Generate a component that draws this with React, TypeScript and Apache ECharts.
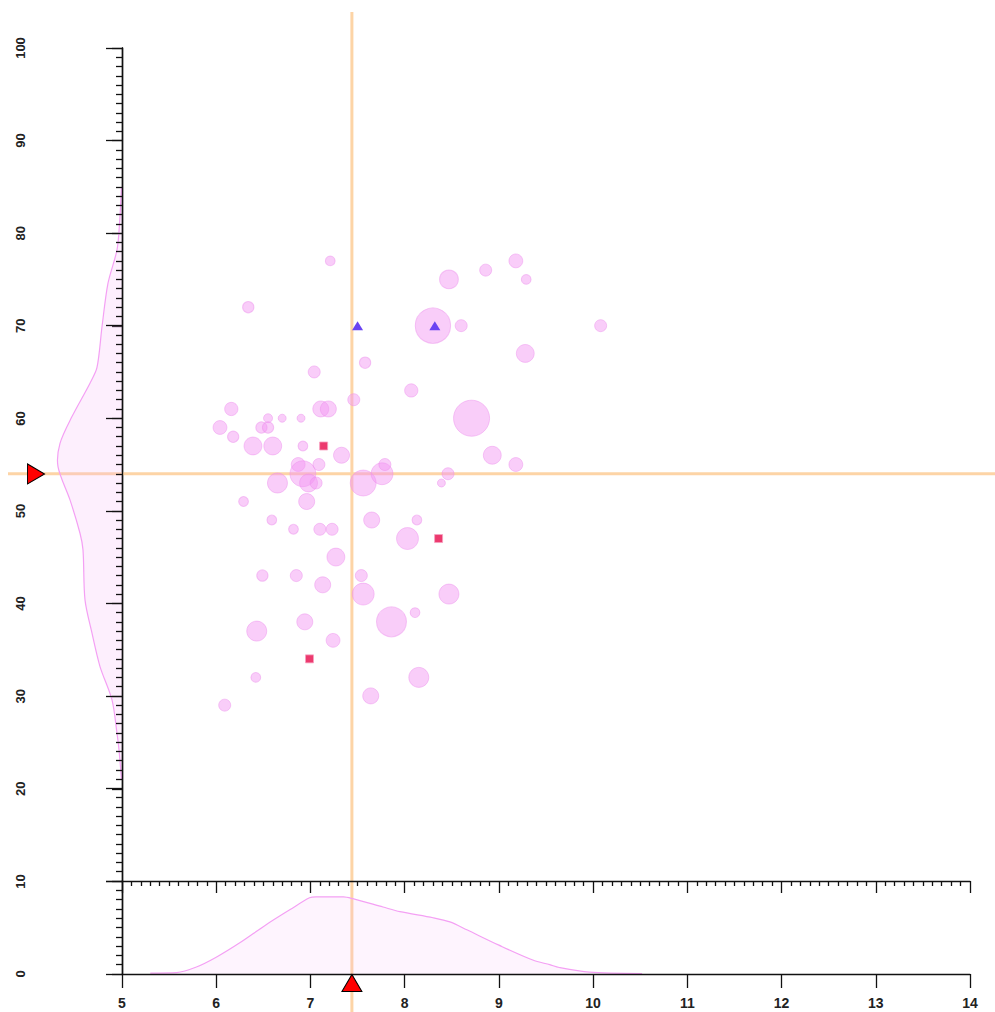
import React, { useEffect, useRef } from "react";
import * as echarts from "echarts";

// Bubble points: [x, y, weight]
const bubbleX = [7.21, 8.47, 8.86, 9.18, 9.29, 6.34, 8.30, 8.60, 10.08, 9.28, 7.58, 7.04, 8.07, 7.46, 8.71, 6.16, 7.11, 7.19, 6.04, 6.18, 6.55, 6.70, 6.90, 6.48, 6.55, 6.39, 6.60, 6.92, 7.33, 7.09, 6.87, 6.92, 6.98, 6.65, 7.06, 7.56, 7.76, 7.79, 8.46, 8.39, 8.93, 9.18, 6.29, 6.96, 6.59, 6.82, 7.10, 7.23, 7.65, 8.13, 8.03, 7.27, 6.49, 6.85, 7.13, 7.54, 7.56, 8.47, 8.11, 7.86, 6.94, 6.43, 7.24, 6.42, 8.15, 7.64, 6.09];
const bubbleY = [77, 75, 76, 77, 75, 72, 70, 70, 70, 67, 66, 65, 63, 62, 60, 61, 61, 61, 59, 58, 60, 60, 60, 59, 59, 57, 57, 57, 56, 55, 55, 54, 53, 53, 53, 53, 54, 55, 54, 53, 56, 55, 51, 51, 49, 48, 48, 48, 49, 49, 47, 45, 43, 43, 42, 43, 41, 41, 39, 38, 38, 37, 36, 32, 32, 30, 29];
const bubbleW = [6, 22, 9, 12, 6, 8, 78, 9, 9, 20, 8, 9, 11, 9, 81, 11, 16, 16, 12, 8, 5, 4, 4, 8, 8, 20, 20, 6, 16, 9, 12, 42, 20, 25, 9, 42, 30, 9, 9, 4, 20, 12, 6, 16, 6, 6, 9, 9, 16, 6, 30, 20, 8, 9, 16, 9, 30, 25, 6, 56, 16, 25, 12, 6, 25, 16, 9];

const squareX = [7.14, 8.36, 6.99];
const squareY = [57, 47, 34];
const triX = [7.5, 8.32];
const triY = [70, 70];

const meanX = 7.44;
const meanY = 54;

// Marginal density of x (bottom panel)
const densXx = [5.3, 5.58, 5.79, 6.0, 6.25, 6.53, 6.78, 6.99, 7.06, 7.35, 7.45, 7.77, 7.95, 8.3, 8.48, 8.66, 9.0, 9.36, 9.54, 9.64, 9.96, 10.52];
const densXv = [0.1, 0.15, 0.75, 1.8, 3.35, 5.3, 6.9, 8.2, 8.3, 8.3, 8.1, 7.2, 6.7, 6.05, 5.6, 4.75, 3.1, 1.5, 1.0, 0.7, 0.2, 0.05];

// Marginal density of y (left panel)
const densYy = [21, 24.2, 26, 29.6, 33.2, 36.8, 40.4, 45.8, 47.6, 51.2, 54.8, 57.3, 60.2, 63.8, 65.5, 69.9, 74.6, 78.2, 81, 85];
const densYv = [0.05, 0.3, 0.5, 1.0, 2.2, 3.0, 3.7, 3.9, 4.2, 5.2, 6.4, 6.2, 5.0, 3.2, 2.5, 2.0, 1.4, 0.5, 0.25, 0.05];

const AX = "#111";
const LABEL = { color: "#222", fontFamily: "Liberation Sans, Arial, sans-serif", fontWeight: "bold" as const, fontSize: 14 };
const DENS_LINE = "rgb(244,160,244)";
const DENS_FILL = "rgba(248,180,248,0.22)";

export default function App() {
  const ref = useRef<HTMLDivElement>(null);
  useEffect(() => {
    if (!ref.current) return;
    const chart = echarts.init(ref.current, undefined, { renderer: "svg" });
    const axisLine = { show: true, lineStyle: { color: AX, width: 1.4 } };
    const tickStyle = { color: AX, width: 1.3 };
    const option: any = {
      animation: false,
      backgroundColor: "#fff",
      grid: [
        { left: 122, top: 48, width: 848, height: 833, outerBoundsMode: "none" },
        { left: 122, top: 881, width: 848, height: 93, outerBoundsMode: "none" },
        { left: 45, top: 48, width: 77, height: 926, outerBoundsMode: "none" },
      ],
      xAxis: [
        {
          gridIndex: 0, type: "value", min: 5, max: 14, interval: 1, position: "bottom",
          axisLine, axisTick: { show: true, inside: false, length: 12, lineStyle: tickStyle },
          minorTick: { show: true, splitNumber: 10, length: 5, lineStyle: tickStyle },
          axisLabel: { show: false }, splitLine: { show: false }, z: 6,
        },
        {
          gridIndex: 1, type: "value", min: 5, max: 14, interval: 1, position: "bottom",
          axisLine, axisTick: { show: true, inside: false, length: 14, lineStyle: tickStyle },
          axisLabel: { ...LABEL, margin: 22 }, splitLine: { show: false }, z: 6,
        },
        { gridIndex: 2, type: "value", min: 0, max: 7.7, inverse: true, show: false },
      ],
      yAxis: [
        {
          gridIndex: 0, type: "value", min: 10, max: 100, interval: 10, position: "left",
          axisLine, axisTick: { show: true, inside: false, length: 16, lineStyle: tickStyle },
          minorTick: { show: true, splitNumber: 10, length: 6, lineStyle: tickStyle },
          axisLabel: { show: false }, splitLine: { show: false }, z: 6,
        },
        {
          gridIndex: 1, type: "value", min: 0, max: 10, interval: 10, position: "left",
          axisLine, axisTick: { show: true, inside: false, length: 16, lineStyle: tickStyle },
          minorTick: { show: true, splitNumber: 10, length: 6, lineStyle: tickStyle },
          axisLabel: { show: false }, splitLine: { show: false }, z: 6,
        },
        {
          gridIndex: 2, type: "value", min: 0, max: 100, interval: 10, position: "left",
          axisLine, axisTick: { show: true, inside: false, length: 10, lineStyle: tickStyle },
          axisLabel: { ...LABEL, fontSize: 13, rotate: 90, margin: 18 }, splitLine: { show: false },
        },
      ],
      series: [
        {
          type: "custom", coordinateSystem: "cartesian2d", xAxisIndex: 2, yAxisIndex: 2,
          data: [[0, 0]], clip: false,
          renderItem: (params: any, api: any) => {
            const curve = densYy.map((y, i) => api.coord([densYv[i], y]));
            const poly = [api.coord([0, densYy[0]]), ...curve, api.coord([0, densYy[densYy.length - 1]])];
            return {
              type: "group",
              children: [
                { type: "polygon", shape: { points: poly, smooth: 0.3 }, style: { fill: DENS_FILL, stroke: null } },
                { type: "polyline", shape: { points: curve, smooth: 0.3 }, style: { fill: null, stroke: DENS_LINE, lineWidth: 1.2 } },
              ],
            };
          },
          z: 2,
        },
        {
          type: "line", xAxisIndex: 1, yAxisIndex: 1, showSymbol: false, smooth: 0.3,
          data: densXx.map((x, i) => [x, densXv[i]]),
          lineStyle: { color: DENS_LINE, width: 1.2 },
          areaStyle: { color: DENS_FILL },
          z: 2,
        },
        {
          type: "scatter", xAxisIndex: 0, yAxisIndex: 0,
          data: bubbleX.map((x, i) => [x, bubbleY[i], bubbleW[i]]),
          symbolSize: (v: number[]) => 4 * Math.sqrt(v[2]),
          itemStyle: { color: "rgba(243,150,243,0.48)", borderColor: "rgba(236,140,236,0.45)", borderWidth: 1, opacity: 1 },
          z: 3,
        },
        {
          type: "scatter", xAxisIndex: 0, yAxisIndex: 0, symbol: "rect", symbolSize: 8,
          data: squareX.map((x, i) => [x, squareY[i]]),
          itemStyle: { color: "#ec3a6e", borderColor: "#f8a0c0", borderWidth: 0.8, opacity: 1 },
          z: 4,
        },
        {
          type: "scatter", xAxisIndex: 0, yAxisIndex: 0, symbol: "triangle", symbolSize: [11, 9],
          data: triX.map((x, i) => [x, triY[i]]),
          itemStyle: { color: "#6a44f2", opacity: 1 },
          z: 4,
        },
        {
          type: "scatter", xAxisIndex: 1, yAxisIndex: 1, symbol: "triangle", symbolSize: [20, 17],
          symbolOffset: [0, 9], clip: false,
          data: [[meanX, 0]],
          itemStyle: { color: "#ff0000", borderColor: "#000", borderWidth: 1, opacity: 1 },
          z: 7,
        },
        {
          type: "scatter", xAxisIndex: 2, yAxisIndex: 2, symbol: "triangle", symbolSize: [20, 17],
          symbolRotate: -90, symbolOffset: [-9, 0], clip: false,
          data: [[7.7, meanY]],
          itemStyle: { color: "#ff0000", borderColor: "#000", borderWidth: 1, opacity: 1 },
          z: 7,
        },
      ],
    };
    chart.setOption(option);
    const p = chart.convertToPixel({ xAxisIndex: 0, yAxisIndex: 0 } as any, [meanX, meanY]) as number[];
    chart.setOption({
      graphic: [
        { type: "line", z: 1, shape: { x1: p[0], y1: 12, x2: p[0], y2: 1012 }, style: { stroke: "#fdd4a6", lineWidth: 3 } },
        { type: "line", z: 1, shape: { x1: 8, y1: p[1], x2: 995, y2: p[1] }, style: { stroke: "#fdd4a6", lineWidth: 3 } },
      ],
    });
    return () => chart.dispose();
  }, []);
  return <div ref={ref} style={{ position: "absolute", left: 0, top: 0, width: 995, height: 1012 }} />;
}
